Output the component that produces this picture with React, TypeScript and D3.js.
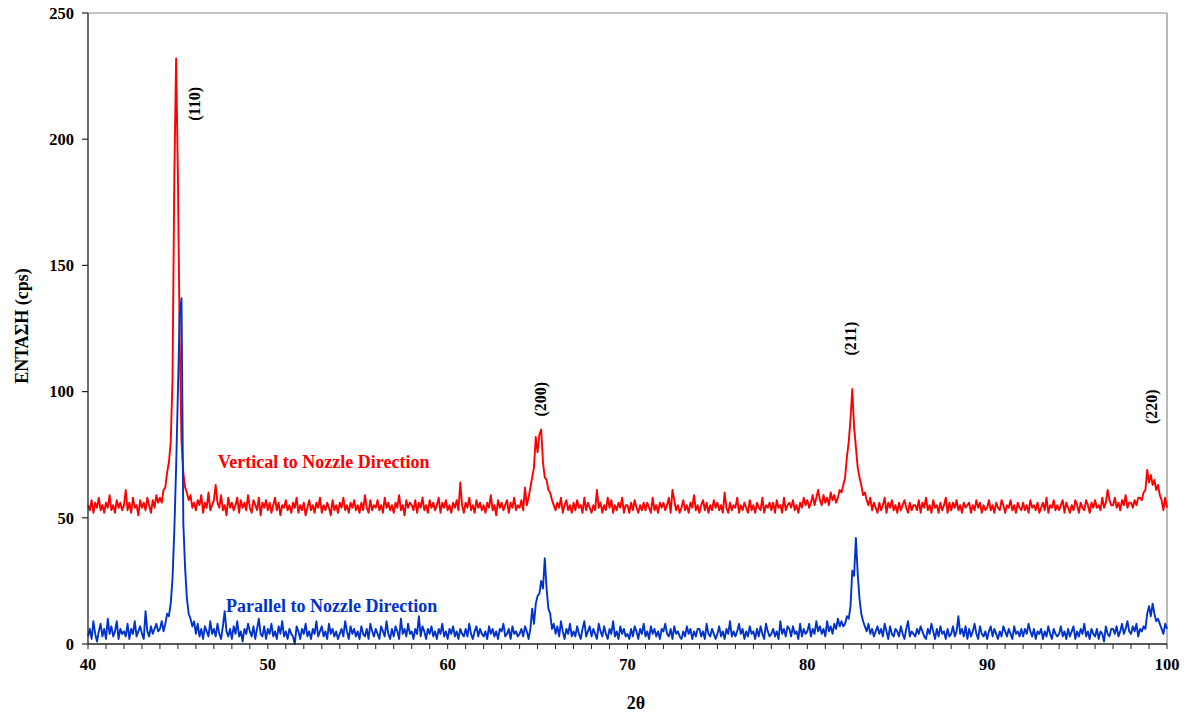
import React from 'react';
import * as d3 from 'd3';

// Diffraction scans, 2θ from 40° to 100° in 0.1° steps (intensity in cps)
const START_ANGLE = 40;
const STEP = 0.1;

const verticalScan: number[] = [
  55, 53, 57, 52, 56, 54, 58, 53, 55, 52,
  56, 54, 59, 53, 55, 52, 57, 54, 56, 53,
  55, 61, 53, 56, 52, 58, 54, 55, 51, 57,
  54, 56, 53, 58, 55, 52, 57, 54, 59, 56,
  58, 56, 61, 62, 68, 72, 80, 105, 185, 232,
  185, 120, 80, 68, 62, 60, 57, 59, 54, 56,
  53, 57, 55, 59, 52, 56, 54, 60, 53, 55,
  57, 63, 56, 54, 59, 53, 55, 51, 58, 54,
  56, 53, 55, 58, 52, 57, 54, 56, 53, 59,
  54, 52, 57, 55, 53, 58, 51, 56, 54, 57,
  53, 56, 52, 55, 58, 53, 56, 51, 55, 54,
  57, 53, 55, 52, 56, 54, 58, 52, 55, 53,
  56, 51, 54, 57, 53, 55, 52, 56, 54, 58,
  52, 55, 53, 56, 54, 51, 57, 53, 55, 52,
  56, 54, 58, 53, 55, 52, 56, 54, 57, 53,
  55, 52, 56, 53, 59, 54, 52, 57, 53, 55,
  54, 57, 53, 55, 52, 58, 54, 56, 53, 55,
  52, 56, 54, 59, 53, 55, 51, 57, 54, 56,
  55, 53, 57, 52, 56, 54, 58, 53, 55, 52,
  57, 54, 56, 53, 55, 58, 52, 56, 54, 57,
  53, 55, 52, 56, 54, 57, 53, 64, 55, 52,
  56, 54, 58, 53, 55, 52, 57, 54, 56, 53,
  55, 52, 56, 54, 59, 53, 55, 51, 57, 54,
  56, 53, 55, 57, 52, 56, 54, 58, 53, 55,
  54, 57, 53, 62, 55, 58, 62, 66, 70, 82,
  76, 83, 85, 72, 66, 65, 61, 60, 57, 55,
  53, 56, 54, 58, 52, 55, 57, 53, 55, 52,
  56, 53, 57, 54, 55, 52, 58, 53, 56, 54,
  52, 55, 53, 61, 54, 56, 52, 55, 53, 58,
  54, 57, 52, 55, 53, 56, 54, 58, 52, 55,
  55, 52, 56, 53, 57, 54, 52, 55, 53, 56,
  53, 56, 54, 52, 58, 53, 55, 52, 56, 54,
  56, 53, 55, 58, 52, 61, 57, 53, 55, 52,
  54, 57, 53, 55, 52, 56, 54, 59, 53, 55,
  52, 55, 57, 53, 56, 52, 55, 53, 57, 54,
  56, 53, 55, 52, 60, 54, 52, 56, 53, 55,
  54, 58, 52, 55, 53, 56, 54, 52, 57, 53,
  55, 52, 56, 54, 53, 58, 52, 55, 54, 56,
  53, 56, 52, 57, 54, 55, 52, 58, 53, 55,
  56, 54, 57, 53, 55, 52, 56, 54, 58, 55,
  57, 54, 56, 59, 55, 58, 61, 57, 55, 59,
  56, 58, 55, 60, 57, 59, 56, 58, 61, 60,
  63, 66, 74, 80, 89, 101, 86, 78, 70, 66,
  63, 59, 60, 57, 55, 58, 53, 56, 54, 52,
  56, 53, 55, 58, 52, 56, 54, 57, 53, 55,
  52, 56, 53, 55, 57, 54, 52, 56, 53, 55,
  55, 53, 57, 52, 56, 54, 58, 53, 55, 52,
  57, 54, 55, 52, 56, 53, 55, 58, 52, 56,
  53, 56, 54, 57, 53, 55, 52, 56, 54, 55,
  56, 52, 55, 53, 57, 54, 56, 52, 55, 53,
  54, 57, 53, 55, 52, 56, 54, 53, 57, 55,
  52, 55, 54, 57, 53, 55, 52, 56, 54, 53,
  56, 53, 55, 52, 57, 54, 55, 53, 56, 52,
  54, 56, 53, 58, 52, 55, 54, 57, 53, 55,
  53, 55, 57, 52, 56, 54, 52, 55, 53, 57,
  55, 52, 56, 54, 53, 57, 55, 52, 56, 54,
  57, 54, 55, 53, 58, 54, 56, 61, 57, 55,
  55, 58, 54, 56, 53, 57, 55, 59, 54, 56,
  56, 54, 57, 55, 58, 58, 57, 60, 61, 69,
  64, 67, 63, 65, 61, 63, 59, 57, 53, 58,
  54,
];

const parallelScan: number[] = [
  3, 6, 2, 9, 4, 1, 5, 8, 3, 6,
  2, 10, 4, 7, 3, 5, 9, 2, 6, 4,
  5, 3, 8, 2, 6, 4, 9, 3, 5, 7,
  4, 2, 13, 5, 3, 7, 4, 6, 8, 5,
  6, 9, 5, 8, 12, 11, 16, 26, 45, 70,
  100, 131, 137, 48, 30, 18, 12, 10, 7, 9,
  4, 8, 3, 6, 2, 7, 5, 3, 9, 4,
  6, 3, 8, 4, 2, 7, 13, 5, 3, 6,
  2, 7, 4, 9, 3, 5, 1, 6, 4, 8,
  5, 3, 7, 2, 6, 10, 4, 3, 7, 2,
  6, 4, 8, 3, 5, 2, 7, 4, 9, 3,
  5, 2, 6, 4, 3, 0, 7, 5, 2, 6,
  4, 8, 3, 5, 2, 6, 4, 9, 3, 5,
  7, 3, 5, 2, 8, 4, 6, 3, 5, 2,
  4, 6, 3, 9, 5, 2, 7, 4, 6, 3,
  5, 2, 7, 4, 3, 6, 2, 8, 5, 3,
  6, 4, 2, 7, 5, 3, 9, 4, 2, 6,
  3, 7, 5, 2, 10, 4, 6, 3, 8, 4,
  5, 2, 6, 4, 11, 3, 7, 5, 2, 6,
  4, 7, 3, 5, 2, 6, 4, 8, 3, 5,
  2, 6, 4, 7, 3, 5, 2, 6, 4, 3,
  6, 3, 8, 4, 2, 5, 7, 3, 6, 4,
  3, 5, 2, 7, 4, 6, 3, 5, 2, 6,
  5, 8, 3, 4, 6, 2, 7, 4, 5, 3,
  4, 6, 3, 7, 5, 2, 6, 14, 8, 16,
  19, 20, 25, 22, 34, 22, 14, 12, 6, 8,
  4, 7, 3, 9, 5, 2, 6, 4, 8, 3,
  5, 3, 7, 4, 2, 6, 9, 3, 5, 7,
  3, 6, 4, 2, 8, 5, 3, 7, 4, 2,
  6, 4, 9, 3, 5, 2, 7, 4, 6, 3,
  4, 2, 6, 3, 7, 5, 2, 6, 4, 8,
  3, 5, 2, 7, 4, 6, 3, 5, 2, 6,
  5, 8, 4, 3, 6, 2, 7, 4, 5, 3,
  2, 5, 3, 7, 4, 6, 2, 5, 3, 6,
  6, 3, 5, 2, 8, 4, 3, 6, 4, 2,
  4, 7, 3, 5, 2, 6, 4, 9, 3, 5,
  3, 5, 8, 4, 6, 2, 5, 3, 7, 4,
  5, 2, 6, 3, 7, 4, 2, 8, 5, 3,
  4, 6, 3, 5, 2, 9, 4, 6, 3, 7,
  6, 3, 7, 4, 5, 2, 8, 3, 6, 4,
  5, 8, 3, 6, 4, 9, 5, 7, 4, 6,
  3, 9, 5, 7, 4, 8, 6, 10, 7, 9,
  7, 8, 11, 10, 15, 29, 27, 42, 28, 18,
  12, 9, 7, 5, 8, 4, 6, 3, 5, 7,
  4, 6, 3, 8, 5, 2, 7, 4, 3, 6,
  5, 3, 7, 4, 2, 6, 9, 3, 5, 4,
  3, 6, 4, 7, 5, 3, 2, 6, 4, 8,
  5, 2, 6, 3, 7, 4, 5, 2, 6, 3,
  4, 7, 3, 5, 11, 4, 6, 3, 7, 2,
  6, 3, 5, 8, 4, 2, 7, 4, 3, 5,
  2, 5, 7, 3, 6, 4, 2, 5, 3, 7,
  5, 3, 6, 4, 2, 7, 4, 5, 3, 6,
  3, 6, 4, 8, 5, 3, 6, 2, 5, 4,
  6, 2, 5, 3, 7, 4, 2, 6, 4, 3,
  4, 7, 3, 5, 2, 6, 3, 5, 7, 2,
  5, 3, 6, 4, 8, 3, 5, 2, 6, 4,
  3, 6, 2, 5, 4, 1, 7, 4, 3, 6,
  6, 4, 7, 3, 5, 8, 4, 6, 9, 5,
  4, 7, 5, 8, 3, 6, 5, 7, 6, 12,
  15, 11, 16, 12, 9, 10, 8, 6, 4, 8,
  6,
];

const xTickValues = [40, 50, 60, 70, 80, 90, 100];
const xMinorTicks = d3.range(40, 101, 1);
const yTickValues = [0, 50, 100, 150, 200, 250];

// Miller index annotations, anchored in data coordinates
const peakLabels = ['(110)', '(200)', '(211)', '(220)'];
const peakLabelAngle = [45.9, 65.15, 82.4, 99.15];
const peakLabelLevel = [214, 97, 121, 94];

const seriesNames = ['Vertical to Nozzle Direction', 'Parallel to Nozzle Direction'];
const seriesColors = ['#ff0000', '#0033cc'];
const seriesLabelAngle = [47.23, 47.68];
const seriesLabelLevel = [69.8, 12.5];

const W = 1187;
const H = 719;
const FONT = '"Liberation Serif", "Times New Roman", serif';

export default function App() {
  const x = d3.scaleLinear().domain([40, 100]).range([88, 1167]);
  const y = d3.scaleLinear().domain([0, 250]).range([644, 13]);

  const line = d3
    .line<number>()
    .x((_, i) => x(START_ANGLE + i * STEP))
    .y((d) => y(d));

  const scans = [verticalScan, parallelScan];

  return (
    <svg
      width={W}
      height={H}
      style={{ position: 'absolute', left: 0, top: 0, background: '#fff' }}
      fontFamily={FONT}
      fontWeight="bold"
    >
      <rect x={0} y={0} width={W} height={H} fill="#fff" />

      {/* plot frame */}
      <line x1={x(40)} x2={x(100)} y1={y(250)} y2={y(250)} stroke="#8a8a8a" strokeWidth={1.2} />
      <line x1={x(100)} x2={x(100)} y1={y(250)} y2={y(0)} stroke="#8a8a8a" strokeWidth={1.2} />

      {/* scans */}
      {scans.map((s, k) => (
        <path
          key={k}
          d={line(s) ?? ''}
          fill="none"
          stroke={seriesColors[k]}
          strokeWidth={1.9}
          strokeLinejoin="round"
        />
      ))}

      {/* y axis */}
      <line x1={x(40)} x2={x(40)} y1={y(250)} y2={y(0)} stroke="#222" strokeWidth={1.3} />
      {yTickValues.map((t) => (
        <g key={t}>
          <line x1={x(40) - 6} x2={x(40)} y1={y(t)} y2={y(t)} stroke="#222" strokeWidth={1.2} />
          <text x={74} y={y(t)} dy="0.35em" textAnchor="end" fontSize={16.5} fill="#000">
            {t}
          </text>
        </g>
      ))}

      {/* x axis */}
      <line x1={x(40)} x2={x(100)} y1={y(0)} y2={y(0)} stroke="#222" strokeWidth={1.3} />
      {xMinorTicks.map((t) => (
        <line key={t} x1={x(t)} x2={x(t)} y1={y(0)} y2={y(0) + 5} stroke="#222" strokeWidth={1} />
      ))}
      {xTickValues.map((t) => (
        <text key={t} x={x(t)} y={670} textAnchor="middle" fontSize={16.5} fill="#000">
          {t}
        </text>
      ))}

      {/* axis titles */}
      <text x={636} y={709} textAnchor="middle" fontSize={18} fill="#000">
        2θ
      </text>
      <text
        transform={`translate(22, 326) rotate(-90)`}
        textAnchor="middle"
        dominantBaseline="central"
        fontSize={18}
        fill="#000"
      >
        ΕΝΤΑΣΗ (cps)
      </text>

      {/* peak indices */}
      {peakLabels.map((lbl, i) => (
        <text
          key={lbl}
          transform={`translate(${x(peakLabelAngle[i])}, ${y(peakLabelLevel[i])}) rotate(-90)`}
          textAnchor="middle"
          dominantBaseline="central"
          fontSize={16}
          fill="#000"
        >
          {lbl}
        </text>
      ))}

      {/* series labels */}
      {seriesNames.map((name, k) => (
        <text
          key={name}
          x={x(seriesLabelAngle[k])}
          y={y(seriesLabelLevel[k])}
          fontSize={18}
          fill={seriesColors[k]}
        >
          {name}
        </text>
      ))}
    </svg>
  );
}
